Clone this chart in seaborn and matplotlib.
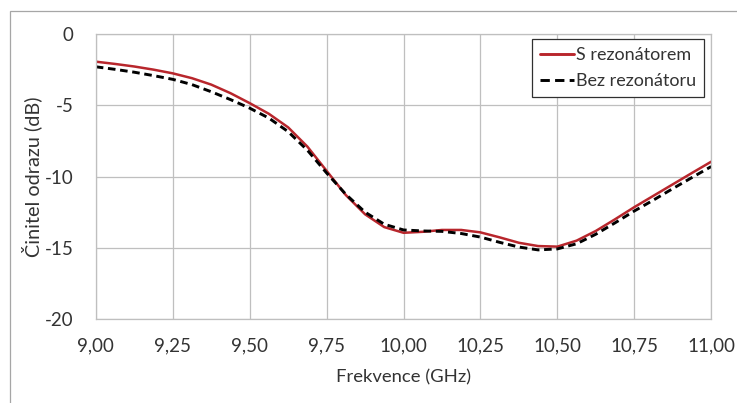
"""
Reflection coefficient with and without the resonator (reproduction of an Excel chart).
"""

import matplotlib

matplotlib.use("Agg")
import matplotlib.pyplot as plt
import pandas as pd
import seaborn as sns
from matplotlib.patches import Rectangle

FREQ_GHZ = [9.00, 9.0625, 9.125, 9.1875, 9.25, 9.3125, 9.375, 9.4375, 9.50, 9.5625,
            9.625, 9.6875, 9.75, 9.8125, 9.875, 9.9375, 10.00, 10.0625, 10.125,
            10.1875, 10.25, 10.3125, 10.375, 10.4375, 10.50, 10.5625, 10.625,
            10.6875, 10.75, 10.8125, 10.875, 10.9375, 11.00]

S_REZONATOREM = [-1.94, -2.10, -2.28, -2.50, -2.76, -3.10, -3.55, -4.15, -4.85, -5.60,
                 -6.55, -7.90, -9.60, -11.30, -12.65, -13.55, -13.95, -13.88, -13.75,
                 -13.75, -13.92, -14.27, -14.65, -14.88, -14.92, -14.50, -13.82,
                 -13.00, -12.15, -11.35, -10.55, -9.75, -8.96]

BEZ_REZONATORU = [-2.30, -2.48, -2.68, -2.92, -3.18, -3.55, -4.05, -4.60, -5.20, -5.90,
                  -6.85, -8.15, -9.75, -11.25, -12.50, -13.35, -13.75, -13.82, -13.85,
                  -14.00, -14.25, -14.62, -14.95, -15.15, -15.08, -14.72, -14.05,
                  -13.25, -12.42, -11.65, -10.85, -10.07, -9.30]

SERIES_NAMES = ["S rezonátorem", "Bez rezonátoru"]
X_TICKS = [9.00, 9.25, 9.50, 9.75, 10.00, 10.25, 10.50, 10.75, 11.00]
Y_TICKS = [0, -5, -10, -15, -20]

GRID = "#bfbfbf"
TEXT = "#333333"
FONT = ["Lato", "DejaVu Sans"]


def main() -> None:
    sns.set_theme(style="white")
    plt.rcParams["font.family"] = FONT

    df = pd.DataFrame({
        "freq": FREQ_GHZ * 2,
        "value": S_REZONATOREM + BEZ_REZONATORU,
        "series": [SERIES_NAMES[0]] * len(FREQ_GHZ) + [SERIES_NAMES[1]] * len(FREQ_GHZ),
    })

    fig = plt.figure(figsize=(7.37, 4.03), dpi=100)
    ax = fig.add_axes([0.130, 0.2084, 0.835, 0.7072])

    sns.lineplot(
        data=df, x="freq", y="value", hue="series", style="series",
        palette={SERIES_NAMES[0]: "#b8262c", SERIES_NAMES[1]: "black"},
        dashes={SERIES_NAMES[0]: "", SERIES_NAMES[1]: (2.6, 1.6)},
        ax=ax, legend=True,
    )
    for line, lw in zip(ax.get_lines(), [1.8, 2.1]):
        line.set_linewidth(lw)

    ax.set_xlim(9.0, 11.0)
    ax.set_ylim(-20, 0)
    ax.set_xticks(X_TICKS)
    ax.set_xticklabels([f"{t:.2f}".replace(".", ",") for t in X_TICKS])
    ax.set_yticks(Y_TICKS)
    ax.set_yticklabels([str(t) for t in Y_TICKS])
    ax.grid(True, color=GRID, linewidth=0.9)
    for spine in ax.spines.values():
        spine.set_color(GRID)
        spine.set_linewidth(0.9)
    ax.tick_params(axis="x", length=0, pad=13, labelsize=13.5, colors=TEXT)
    ax.tick_params(axis="y", length=0, pad=16, labelsize=13.5, colors=TEXT)
    ax.set_xlabel("Frekvence (GHz)", fontsize=13.3, color=TEXT, labelpad=11)
    ax.set_ylabel("Činitel odrazu (dB)", fontsize=14.3, color=TEXT, labelpad=2)

    handles, labels = ax.get_legend_handles_labels()
    for h in handles:
        h.set_linewidth(2.1)
    handles[1].set_dashes((3.2, 1.8))
    leg = ax.legend(
        handles, labels, loc="upper right", bbox_to_anchor=(0.9886, 0.9825),
        borderaxespad=0, fancybox=False, framealpha=1, fontsize=13,
        handlelength=1.9, handletextpad=0.1, borderpad=0.45, labelspacing=0.55,
    )
    leg.get_frame().set_edgecolor("#303030")
    leg.get_frame().set_linewidth(0.9)
    for txt in leg.get_texts():
        txt.set_color(TEXT)

    # outer chart frame, cut off on the right and bottom
    fig.patches.append(Rectangle((10 / 737, -0.1), 1.2, 1.1 - 11 / 403,
                                 transform=fig.transFigure, fill=False,
                                 edgecolor="#a6a6a6", linewidth=0.9))

    fig.savefig("out.png", dpi=100)
    plt.close(fig)


if __name__ == "__main__":
    main()
